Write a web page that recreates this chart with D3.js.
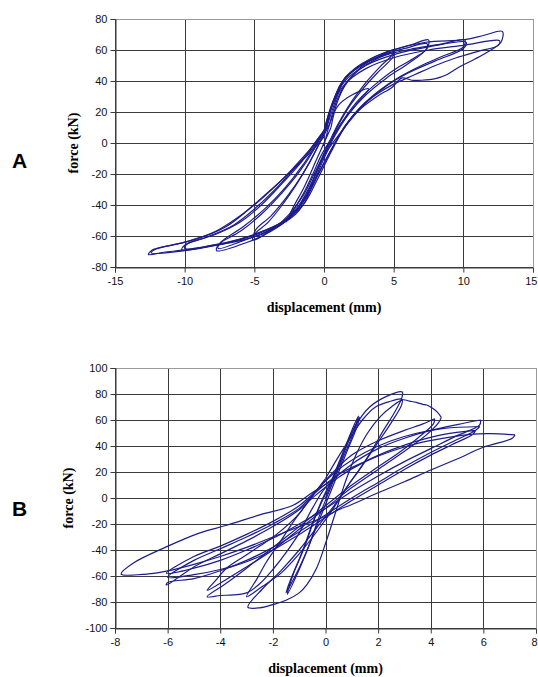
<!DOCTYPE html>
<html>
<head>
<meta charset="utf-8">
<script src="https://cdn.jsdelivr.net/npm/d3@7"></script>
<style>
  html, body { margin: 0; padding: 0; background: #fff; }
  svg { display: block; }
</style>
</head>
<body>
<svg id="chart" width="538" height="677"></svg>
<script>
// tick values
const xTicksA = [-15, -10, -5, 0, 5, 10, 15];
const yTicksA = [-80, -60, -40, -20, 0, 20, 40, 60, 80];
const xTicksB = [-8, -6, -4, -2, 0, 2, 4, 6, 8];
const yTicksB = [-100, -80, -60, -40, -20, 0, 20, 40, 60, 80, 100];

// specimen A, load cycles [displacement mm, force kN]
const loopA1 = [[0,-2],[0.4,12],[1,24],[2,31],[3.2,35],[2.6,28],[1.6,17],[0.6,4],[-0.2,-8],[-0.8,-20],[-1.5,-33],[-2.1,-42],[-2.7,-51],[-2.3,-43],[-1.4,-28],[-0.6,-12],[0,0],[0.5,10]];
const loopA2 = [[0.5,10],[0.9,25],[1.5,37],[2.3,46],[3.3,53],[4.2,57],[5,60],[4.9,57],[4,49],[3,39],[2,27],[1,12],[0.2,-3],[-0.6,-18],[-1.5,-34],[-2.5,-46],[-3.6,-55],[-5.1,-62.5],[-5,-59],[-4,-51],[-3,-40],[-2,-27],[-1,-12],[-0.2,2],[0.4,12]];
const loopA3 = [[0.4,12],[0.9,27],[1.6,39],[2.5,47],[3.5,53],[5,58],[4.9,55],[3.8,45],[2.7,34],[1.7,22],[0.7,6],[0,-7],[-0.8,-24],[-1.8,-40],[-3,-51],[-5,-60],[-4.9,-56],[-3.8,-47],[-2.6,-34],[-1.6,-21],[-0.6,-5],[0,7]];
const loopA4 = [[0,7],[0.5,22],[1.2,38],[2.2,48],[3.5,55],[5,60],[6.3,63.5],[7.5,66.5],[7.4,61],[6.5,55],[5,47],[3.7,38],[2.5,28],[1.4,15],[0.5,1],[-0.3,-14],[-1.2,-32],[-2.3,-47],[-3.8,-57],[-5.5,-64],[-7.7,-69.5],[-7.5,-65],[-6,-57],[-4.5,-46],[-3,-32],[-1.8,-19],[-0.7,-4],[0,8]];
const loopA5 = [[0,8],[0.6,26],[1.4,40],[2.5,49],[4,56],[5.8,61],[7.4,64],[7.3,60],[6,51],[4.5,42],[3,31],[1.8,19],[0.8,5],[0,-10],[-1,-30],[-2.2,-46],[-3.8,-56],[-5.8,-63],[-7.6,-68],[-7.4,-64],[-5.8,-54],[-4.2,-42],[-2.8,-29],[-1.5,-14],[-0.5,0],[0.2,10]];
const loopA6 = [[0.2,10],[0.7,28],[1.5,42],[2.8,51],[4.5,57],[6.5,61],[8.5,64],[10.1,66.5],[10,62],[8.5,56],[7,50],[5.5,43],[4,34],[2.6,23],[1.5,11],[0.6,-3],[-0.3,-18],[-1.2,-34],[-2.4,-48],[-4,-57],[-6,-63],[-8,-66],[-10.2,-69],[-10,-66],[-8.5,-61],[-6.5,-53],[-4.8,-41],[-3.3,-28],[-2,-15],[-0.8,-3],[0,8]];
const loopA7 = [[0,8],[0.6,25],[1.5,40],[3,50],[5,57],[7.5,62],[10.2,65],[10,61],[8,53],[6,45],[4.5,37],[3,26],[1.7,13],[0.6,-3],[-0.4,-20],[-1.5,-38],[-3,-51],[-5,-59],[-7.5,-65],[-10,-68],[-9.8,-65],[-7.8,-59],[-6,-51],[-4.5,-40],[-3,-26],[-1.6,-12],[-0.5,2],[0.2,10]];
const loopA8 = [[0.2,10],[0.84,27.5],[1.56,42.6],[2.5,49],[3.5,55],[4.9,60],[7.3,65],[10.1,66.7],[11.5,69.5],[12.8,72],[12.7,65],[11.8,59],[10.8,54],[9.7,49],[8.8,44],[8,41.5],[7,40.5],[6.3,40.5],[5.6,42],[4.9,36],[3.8,30],[2.5,21],[1.3,8],[0.1,-7],[-0.6,-20],[-1.3,-37],[-2.3,-48],[-4.7,-58.5],[-7.1,-65],[-10,-69],[-11.5,-70.5],[-12.6,-72],[-12.35,-69.2],[-11,-66],[-9.5,-62.8],[-7.07,-54.2],[-4.68,-37],[-2.28,-17.6],[-0.84,-4.7],[0,4]];
const loopA9 = [[0,4],[0.6,24],[1.5,38],[3,48],[5,55],[7.5,60],[10,63],[12.6,66],[12.5,63],[11,59],[9.5,55],[8,50],[6.5,44],[5,38],[3.7,31],[2.5,22],[1.4,9],[0.5,-6],[-0.5,-24],[-1.5,-40],[-3,-51],[-5,-59],[-7.5,-65.5],[-10,-69.5],[-12.4,-71],[-12.2,-69],[-10,-64],[-8,-58],[-6.5,-50],[-5,-40],[-3.5,-28],[-2.2,-16],[-1,-4],[0,8]];

// specimen B, load cycles [displacement mm, force kN]
const loopB1 = [[0,0],[0.3,15],[0.7,35],[1,50],[1.3,62],[1.2,55],[0.8,35],[0.4,15],[0,-5],[-0.4,-25],[-0.8,-45],[-1.2,-62],[-1.5,-73],[-1.35,-64],[-0.9,-42],[-0.5,-20],[-0.1,0],[0.2,12]];
const loopB2 = [[0.2,12],[0.6,32],[1,52],[1.25,63],[1.1,52],[0.65,30],[0.2,8],[-0.2,-12],[-0.6,-35],[-1,-55],[-1.45,-74],[-1.25,-60],[-0.8,-38],[-0.4,-15],[0,3]];
const loopB3 = [[0,3],[0.5,25],[0.9,45],[1.18,57],[1.68,70],[2.3,78],[2.92,81.5],[2.9,77],[2.6,65],[2.2,52],[1.8,38],[1.3,22],[0.8,8],[0.3,-8],[-0.3,-25],[-1,-43],[-1.7,-58],[-2.4,-68],[-3,-76],[-2.6,-62],[-2.24,-49],[-1.7,-33],[-1.23,-18.5],[-0.47,2],[0,15]];
const loopB4 = [[0,15],[0.5,32],[1,48],[1.4,60],[1.9,70],[2.4,74],[2.9,76],[2.9,72],[2.5,58],[2,43],[1.5,28],[1,14],[0.4,-4],[-0.3,-22],[-1,-40],[-1.7,-56],[-2.4,-70],[-2.95,-84],[-2.5,-84.5],[-2,-82],[-1.5,-78.7],[-1,-73],[-0.72,-67],[-0.34,-54],[0,-35],[0.4,-10],[0.8,15],[1.2,35],[1.6,50],[2.1,63],[2.5,70],[2.93,75.5],[3.2,74.5],[3.45,73.5],[3.7,72],[3.85,71.5],[4.07,69],[4.25,66],[4.4,62]];
const loopB5 = [[4.4,62],[4.3,58],[3.8,48],[3,36],[2,22],[1,8],[0,-8],[-1,-24],[-2,-40],[-3,-53],[-3.8,-63],[-4.5,-71],[-4.2,-64],[-3.76,-54],[-3.1,-45],[-2.5,-37],[-1.86,-28],[-1,-12],[-0.5,2],[0.3,20],[1,33],[2,44],[3,52],[3.7,57],[4.15,61]];
const loopB6 = [[4.15,61],[4.1,57],[3.5,46],[2.8,35],[2,24],[1,10],[0,-6],[-1,-22],[-2,-38],[-3,-54],[-3.8,-66],[-4.5,-76],[-4,-75],[-3.5,-74.5],[-3,-73],[-2.5,-66],[-2,-55],[-1.5,-42],[-1,-27],[-0.5,-8],[0,8],[1,26],[2,38],[3,46],[4,52],[5,56.5],[5.9,60]];
const loopB7 = [[5.9,60],[5.85,56],[5,48],[4,38],[3,28],[2,17],[1,5],[0,-8],[-1,-20],[-2,-31],[-3,-40],[-4,-48],[-5,-54],[-6.05,-58],[-5,-45],[-4,-37],[-3,-28],[-2,-18],[-1,-6],[-0.5,3],[0.5,22],[1.5,35],[2.5,44],[3.5,50],[4.5,53.5],[5.86,55]];
const loopB8 = [[5.86,55],[5.7,52],[5,45],[4,35],[3,24],[2,12],[1,0],[0,-13],[-1,-26],[-2,-38],[-3,-48],[-4,-56],[-5,-62],[-6,-65],[-6.05,-67],[-5,-53],[-4,-43],[-3,-33],[-2,-22],[-1,-9],[-0.5,0],[0.5,16],[1.5,28],[2.5,37],[3.5,44],[4.5,49],[5.7,52]];
const loopB9 = [[5.7,52],[5.6,49],[4.8,41],[4,33],[3,22],[2,10],[1,-2],[0,-15],[-1,-28],[-2,-40],[-3,-49],[-4,-55],[-5,-59],[-6,-61],[-5,-48],[-4,-39],[-3,-30],[-2,-20],[-1,-8],[-0.5,2],[0.5,18],[1.5,28],[2.5,36],[3.5,42],[4.5,46],[5.5,49],[6.3,49.5],[7.2,48.5]];
const loopB10 = [[7.2,48.5],[7.1,46],[6,39],[5,30],[4,21.5],[3,12.5],[2,4],[1,-5],[0.5,-9],[0,-14],[-1,-22],[-2,-30],[-3,-38],[-4,-45],[-5,-51],[-6,-56],[-6.8,-58.5],[-7.77,-58.5],[-7.3,-50],[-6.05,-37.6],[-4.8,-27],[-3.76,-21],[-2.5,-13],[-1.23,-5.6],[-0.47,4.6],[0.3,14]];

const loopsA = [loopA1, loopA2, loopA3, loopA4, loopA5, loopA6, loopA7, loopA8, loopA9];
const loopsB = [loopB1, loopB2, loopB3, loopB4, loopB5, loopB6, loopB7, loopB8, loopB9, loopB10];

const pageW = 538;
const svg = d3.select('#chart');

function drawPanel(cfg) {
	const x = d3.scaleLinear().domain(d3.extent(cfg.xTicks)).range([cfg.left, cfg.right]);
	const y = d3.scaleLinear().domain(d3.extent(cfg.yTicks)).range([cfg.bottom, cfg.top]);
	const g = svg.append('g');

	// grid
	g.append('g').selectAll('line').data(cfg.xTicks).join('line')
		.attr('x1', d => Math.round(x(d)) + 0.5).attr('x2', d => Math.round(x(d)) + 0.5)
		.attr('y1', cfg.top).attr('y2', cfg.bottom)
		.attr('stroke', d => d === cfg.xTicks[cfg.xTicks.length - 1] ? '#9a9a9a' : '#3a3a3a')
		.attr('stroke-width', 1);
	g.append('g').selectAll('line').data(cfg.yTicks).join('line')
		.attr('y1', d => Math.round(y(d)) + 0.5).attr('y2', d => Math.round(y(d)) + 0.5)
		.attr('x1', cfg.left).attr('x2', cfg.right)
		.attr('stroke', d => d === cfg.yTicks[cfg.yTicks.length - 1] ? '#9a9a9a' : '#3a3a3a')
		.attr('stroke-width', 1);

	// axes
	const fmt = d => String(d);
	const xAxis = g.append('g')
		.attr('transform', `translate(0,${Math.round(y(cfg.yTicks[0])) + 0.5})`)
		.call(d3.axisBottom(x).tickValues(cfg.xTicks).tickFormat(fmt).tickSize(5).tickPadding(5));
	const yAxis = g.append('g')
		.attr('transform', `translate(${Math.round(x(cfg.xTicks[0])) + 0.5},0)`)
		.call(d3.axisLeft(y).tickValues(cfg.yTicks).tickFormat(fmt).tickSize(5).tickPadding(3));
	[xAxis, yAxis].forEach(a => {
		a.select('.domain').attr('stroke', '#3a3a3a');
		a.selectAll('.tick line').attr('stroke', '#3a3a3a');
		a.selectAll('.tick text')
			.style('font-family', '"Liberation Sans", Arial, sans-serif')
			.style('font-size', '11px')
			.attr('fill', '#111');
	});
	// the last x label sits on the page edge, keep it inside
	const lastX = cfg.xTicks[cfg.xTicks.length - 1];
	xAxis.selectAll('.tick text').filter(d => d === lastX).each(function() {
		const w = this.getComputedTextLength();
		const room = pageW - 1 - Math.round(x(lastX));
		d3.select(this).attr('text-anchor', 'end').attr('x', Math.min(w / 2, room));
	});

	// hysteresis loops
	const line = d3.line()
		.x(d => x(d[0]))
		.y(d => y(d[1]))
		.curve(d3.curveCatmullRom.alpha(0.5));
	g.append('g').selectAll('path').data(cfg.loops).join('path')
		.attr('d', line)
		.attr('fill', 'none')
		.attr('stroke', '#1c1c8c')
		.attr('stroke-width', 1.2)
		.attr('stroke-linejoin', 'round');

	// titles
	g.append('text')
		.attr('x', (cfg.left + cfg.right) / 2)
		.attr('y', cfg.xLabelY)
		.attr('text-anchor', 'middle')
		.attr('dy', '0.35em')
		.style('font-family', '"Liberation Serif", "Times New Roman", serif')
		.style('font-weight', 'bold')
		.style('font-size', '14px')
		.text('displacement (mm)');
	g.append('text')
		.attr('transform', `translate(${cfg.yLabelX},${(cfg.top + cfg.bottom) / 2}) rotate(-90)`)
		.attr('text-anchor', 'middle')
		.attr('dy', '0.35em')
		.style('font-family', '"Liberation Serif", "Times New Roman", serif')
		.style('font-weight', 'bold')
		.style('font-size', '14px')
		.text('force (kN)');
	g.append('text')
		.attr('x', 12)
		.attr('y', cfg.tagY)
		.style('font-family', '"Liberation Sans", Arial, sans-serif')
		.style('font-weight', 'bold')
		.style('font-size', '21px')
		.text(cfg.tag);
}

drawPanel({ tag: 'A', tagY: 168, xTicks: xTicksA, yTicks: yTicksA, loops: loopsA,
	left: 115, right: 533, top: 19, bottom: 267, xLabelY: 307, yLabelX: 73 });
drawPanel({ tag: 'B', tagY: 516, xTicks: xTicksB, yTicks: yTicksB, loops: loopsB,
	left: 115, right: 536, top: 368, bottom: 628, xLabelY: 668, yLabelX: 68 });
</script>
</body>
</html>
